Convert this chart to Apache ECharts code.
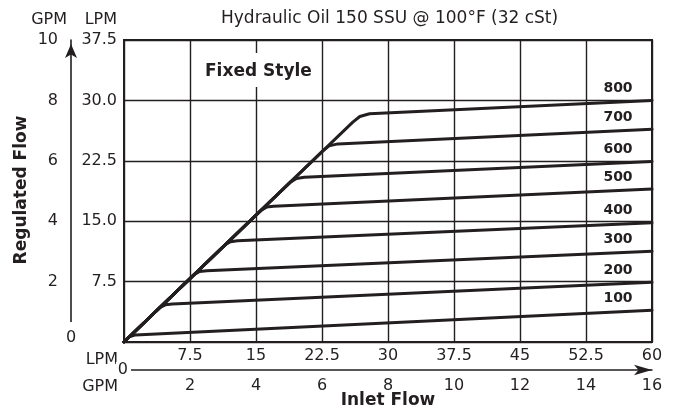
<!DOCTYPE html>
<html lang="en">
  <head>
    <meta charset="UTF-8" />
    <title>Fixed Style</title>
    <script src="https://cdn.jsdelivr.net/npm/echarts@6/dist/echarts.min.js"></script>
    <style>
      html, body { margin: 0; padding: 0; background: #fff; }
      #main { width: 676px; height: 416px; }
    </style>
  </head>
  <body>
    <div id="main"></div>
    <script>
      // curve values: [inlet LPM, regulated LPM]
      const seriesNames = ['100', '200', '300', '400', '500', '600', '700', '800']
      const curve100 = [[0, 0], [0.6, 0.63], [1.3, 0.88], [60, 3.94]]
      const curve200 = [[0, 0], [4.1, 4.31], [4.7, 4.62], [5.5, 4.72], [60, 7.42]]
      const curve300 = [[0, 0], [8.0, 8.4], [8.6, 8.75], [9.4, 8.85], [60, 11.26]]
      const curve400 = [[0, 0], [11.5, 12.08], [12.1, 12.45], [12.9, 12.57], [60, 14.8]]
      const curve500 = [[0, 0], [15.6, 16.38], [16.2, 16.75], [17.0, 16.85], [60, 18.99]]
      const curve600 = [[0, 0], [18.9, 19.85], [19.6, 20.3], [20.5, 20.45], [60, 22.41]]
      const curve700 = [[0, 0], [22.6, 23.73], [23.3, 24.35], [24.3, 24.6], [60, 26.43]]
      const curve800 = [[0, 0], [26.0, 27.3], [26.8, 28.0], [27.9, 28.35], [60, 30.0]]
      const curves = [curve100, curve200, curve300, curve400, curve500, curve600, curve700, curve800]

      // tick labels
      const inletLpmLabels = ['', '7.5', '15', '22.5', '30', '37.5', '45', '52.5', '60']
      const inletGpmLabels = ['', '2', '4', '6', '8', '10', '12', '14', '16']
      const regLpmLabels = ['', '7.5', '15.0', '22.5', '30.0', '37.5']
      const regGpmLabels = ['', '2', '4', '6', '8', '10']

      const ink = '#231f20'
      const font = 'DejaVu Sans'

      const myChart = echarts.init(document.getElementById('main'))

      const option = {
        animation: false,
        backgroundColor: '#fff',
        textStyle: { fontFamily: font, color: ink },
        title: [
          {
            text: 'Hydraulic Oil 150 SSU @ 100°F (32 cSt)',
            left: 221,
            top: 10,
            padding: 0,
            textStyle: { fontFamily: font, fontSize: 17, fontWeight: 'normal', color: ink },
          },
          {
            text: 'Fixed Style',
            left: 201,
            top: 53,
            padding: [9, 4, 5, 4],
            backgroundColor: '#fff',
            textStyle: { fontFamily: font, fontSize: 17, fontWeight: 'bold', color: ink, lineHeight: 20 },
          },
        ],
        grid: {
          left: 124,
          right: 24,
          top: 40,
          bottom: 74,
          show: true,
          borderColor: ink,
          borderWidth: 2,
          backgroundColor: 'transparent',
        },
        xAxis: [
          {
            type: 'value',
            min: 0,
            max: 60,
            interval: 7.5,
            position: 'bottom',
            name: 'LPM',
            nameLocation: 'start',
            nameGap: 6,
            nameMoveOverlap: false,
            nameTextStyle: { fontFamily: font, fontSize: 16, color: ink, verticalAlign: 'top', lineHeight: 36 },
            axisLine: { show: false, onZero: false },
            axisTick: { show: false },
            splitLine: { show: true, lineStyle: { color: ink, width: 1.4 } },
            axisLabel: {
              margin: 6,
              fontFamily: font,
              fontSize: 16,
              color: ink,
              formatter: (v, i) => inletLpmLabels[i],
            },
          },
          {
            type: 'value',
            min: 0,
            max: 16,
            interval: 2,
            position: 'bottom',
            offset: 28,
            name: 'Inlet Flow',
            nameLocation: 'middle',
            nameGap: 22,
            nameMoveOverlap: false,
            nameTextStyle: { fontFamily: font, fontSize: 17, fontWeight: 'bold', color: ink },
            axisLine: {
              show: true,
              onZero: false,
              symbol: ['none', 'arrow'],
              symbolSize: [8, 18],
              lineStyle: { color: ink, width: 1.5 },
            },
            axisTick: { show: false },
            splitLine: { show: false },
            axisLabel: {
              margin: 8,
              fontFamily: font,
              fontSize: 16,
              color: ink,
              formatter: (v, i) => inletGpmLabels[i],
            },
          },
        ],
        yAxis: [
          {
            type: 'value',
            min: 0,
            max: 37.5,
            interval: 7.5,
            position: 'left',
            name: 'LPM',
            nameLocation: 'end',
            nameGap: 12,
            nameMoveOverlap: false,
            nameTextStyle: { fontFamily: font, fontSize: 16, color: ink, align: 'right', padding: [0, 7, 0, 0] },
            axisLine: { show: false, onZero: false },
            axisTick: { show: false },
            splitLine: { show: true, lineStyle: { color: ink, width: 1.4 } },
            axisLabel: {
              margin: 7,
              fontFamily: font,
              fontSize: 16,
              color: ink,
              formatter: (v, i) => regLpmLabels[i],
            },
          },
          {
            type: 'value',
            min: 0,
            max: 10,
            interval: 2,
            position: 'left',
            offset: 53,
            name: 'GPM',
            nameLocation: 'end',
            nameGap: 12,
            nameMoveOverlap: false,
            nameTextStyle: { fontFamily: font, fontSize: 16, color: ink, align: 'right', padding: [0, 4, 0, 0] },
            axisLine: {
              show: true,
              onZero: false,
              symbol: ['none', 'arrow'],
              symbolSize: [9, 14],
              symbolOffset: [0, -4],
              lineStyle: { color: ink, width: 1.6 },
            },
            axisTick: { show: false },
            splitLine: { show: false },
            axisLabel: {
              margin: 13,
              fontFamily: font,
              fontSize: 16,
              color: ink,
              formatter: (v, i) => regGpmLabels[i],
            },
          },
        ],
        graphic: [
          {
            type: 'text',
            x: 22,
            y: 190,
            rotation: Math.PI / 2,
            z: 100,
            style: {
              text: 'Regulated Flow',
              fill: ink,
              font: 'bold 17px "DejaVu Sans"',
              align: 'center',
              verticalAlign: 'middle',
            },
          },
          {
            type: 'text',
            x: 71,
            y: 346,
            z: 100,
            style: {
              text: '0',
              fill: ink,
              font: '16px "DejaVu Sans"',
              align: 'center',
              verticalAlign: 'bottom',
              backgroundColor: '#fff',
              padding: [8, 3, 0, 3],
            },
          },
          {
            type: 'text',
            x: 131,
            y: 370,
            z: 100,
            style: {
              text: '0',
              fill: ink,
              font: '16px "DejaVu Sans"',
              align: 'right',
              verticalAlign: 'middle',
              backgroundColor: '#fff',
              padding: [0, 3, 0, 2],
            },
          },
          {
            type: 'text',
            x: 118,
            y: 387,
            z: 100,
            style: {
              text: 'GPM',
              fill: ink,
              font: '16px "DejaVu Sans"',
              align: 'right',
              verticalAlign: 'middle',
            },
          },
        ],
        series: seriesNames.map((name, k) => ({
          name: name,
          type: 'line',
          xAxisIndex: 0,
          yAxisIndex: 0,
          data: curves[k],
          symbol: 'none',
          lineStyle: { color: ink, width: 3, join: 'round', cap: 'round' },
          endLabel: {
            show: true,
            formatter: '{a}',
            align: 'center',
            verticalAlign: 'middle',
            distance: 0,
            offset: [-34, -12],
            fontFamily: font,
            fontSize: 14,
            fontWeight: 'bold',
            color: ink,
          },
          z: 3,
        })),
      }

      myChart.setOption(option)
    </script>
  </body>
</html>
